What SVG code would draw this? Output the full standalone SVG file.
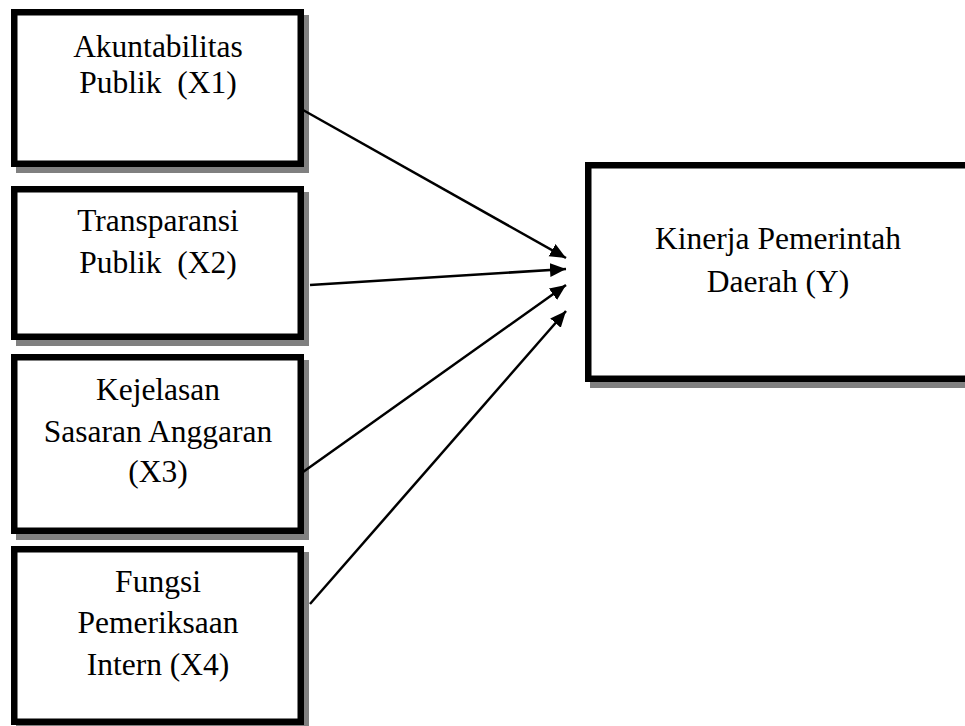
<svg xmlns="http://www.w3.org/2000/svg" width="965" height="726" viewBox="0 0 965 726">
<defs>
<style>
.sh{fill:#808080;stroke:none}
.bx{fill:#fff;stroke:#000;stroke-width:6.5}
.t{font-family:"Liberation Serif","Times New Roman",serif;font-size:31.5px;fill:#000;text-anchor:middle}
.c{stroke:#000;stroke-width:2.5;fill:none;marker-end:url(#ah)}
</style>
<marker id="ah" markerUnits="userSpaceOnUse" markerWidth="18" markerHeight="16" refX="16" refY="7" orient="auto">
<path d="M0,0 L16,7 L0,14 Z" fill="#000"/>
</marker>
</defs>
<rect width="965" height="726" fill="#fff"/>
<g id="x1">
<rect class="sh" x="16" y="15" width="293" height="158"/>
<rect class="bx" x="14.25" y="12.25" width="286.5" height="151.5"/>
<text class="t" x="158" y="57">Akuntabilitas</text>
<text class="t" x="158" y="93" xml:space="preserve">Publik  (X1)</text>
</g>
<g id="x2">
<rect class="sh" x="16" y="192" width="293" height="154"/>
<rect class="bx" x="14.25" y="189.25" width="286.5" height="147.5"/>
<text class="t" x="158" y="231">Transparansi</text>
<text class="t" x="158" y="273" xml:space="preserve">Publik  (X2)</text>
</g>
<g id="x3">
<rect class="sh" x="16" y="360" width="293" height="180"/>
<rect class="bx" x="14.25" y="357.25" width="286.5" height="173.5"/>
<text class="t" x="158" y="400">Kejelasan</text>
<text class="t" x="158" y="442">Sasaran Anggaran</text>
<text class="t" x="158" y="482">(X3)</text>
</g>
<g id="x4">
<rect class="sh" x="16" y="552" width="293" height="180"/>
<rect class="bx" x="14.25" y="549.25" width="286.5" height="172.5"/>
<text class="t" x="158" y="592">Fungsi</text>
<text class="t" x="158" y="633">Pemeriksaan</text>
<text class="t" x="158" y="675">Intern (X4)</text>
</g>
<g id="y">
<rect class="sh" x="590" y="168" width="420" height="220"/>
<rect class="bx" x="588.25" y="165.25" width="420" height="213.5"/>
<text class="t" x="778" y="249">Kinerja Pemerintah</text>
<text class="t" x="778" y="292">Daerah (Y)</text>
</g>
<g id="connectors">
<line class="c" x1="303" y1="110" x2="566" y2="258"/>
<line class="c" x1="310" y1="285" x2="566" y2="269"/>
<line class="c" x1="303" y1="472" x2="566" y2="285"/>
<line class="c" x1="310" y1="604" x2="566" y2="311"/>
</g>
</svg>
